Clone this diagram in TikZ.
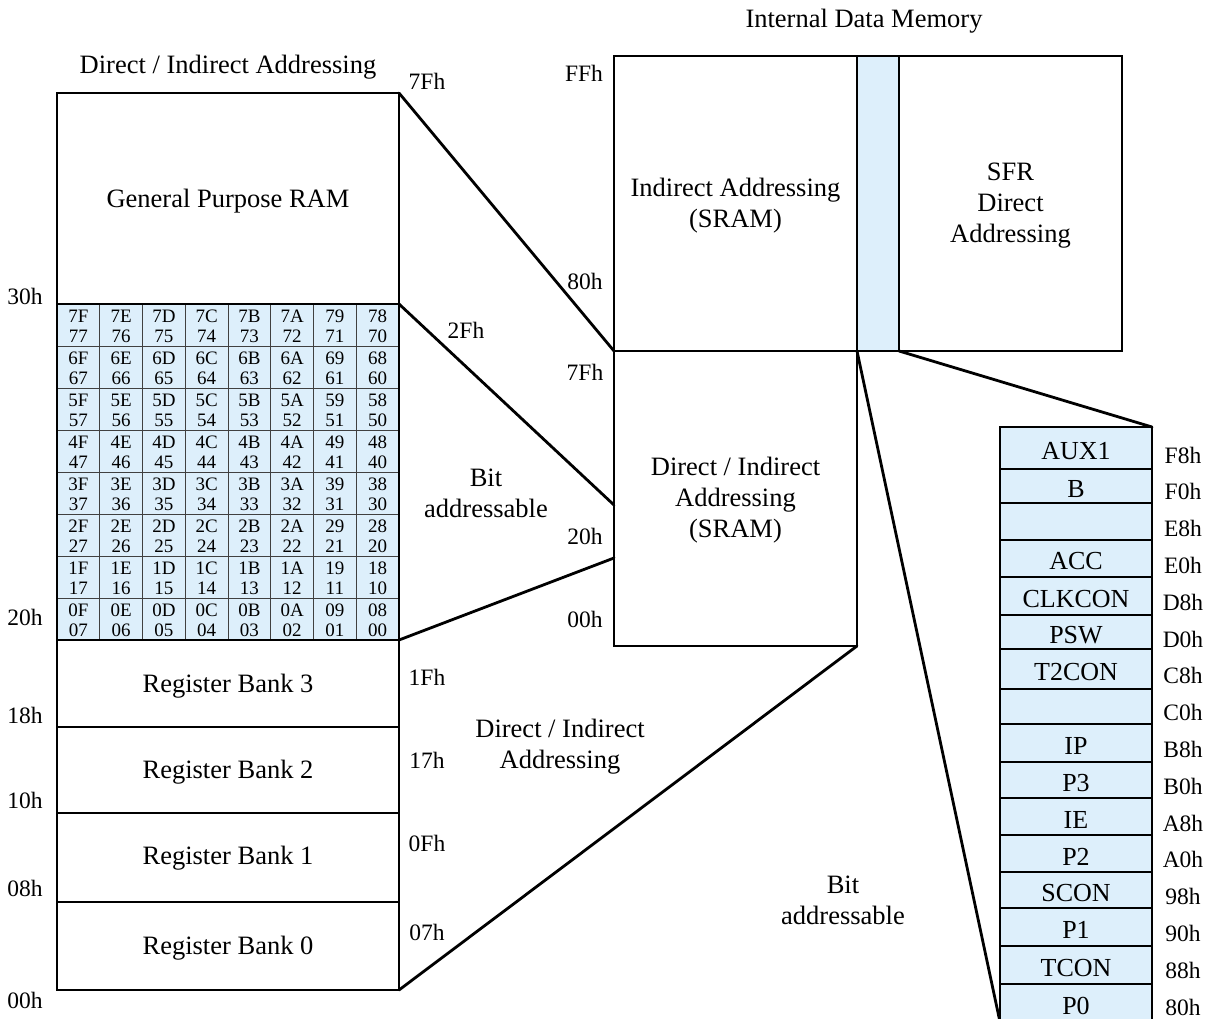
\documentclass[tikz,border=0pt]{standalone}
\usepackage{fontspec}
\setmainfont{Liberation Serif}
\definecolor{cellblue}{RGB}{221,239,251}
\newcommand{\mainfs}{\fontsize{26.5}{31}\selectfont}
\newcommand{\addrfs}{\fontsize{23.5}{28}\selectfont}
\newcommand{\cellfs}{\fontsize{19}{20}\selectfont}
\newcommand{\sfrfs}{\fontsize{26}{30}\selectfont}
\begin{document}
\begin{tikzpicture}[x=1pt,y=-1pt,
  box/.style={draw, line width=2.8pt, outer sep=0pt, inner sep=0pt},
  boxtext/.style={inner sep=0pt, align=center, font=\mainfs},
  cell/.style={draw=black!75, line width=0.9pt, fill=cellblue, outer sep=0pt, inner sep=0pt,
    minimum width=42.75pt, minimum height=42pt},
  celltext/.style={inner sep=0pt, align=center, font=\cellfs},
  addr/.style={inner sep=0pt, font=\addrfs},
  lbl/.style={inner sep=0pt, align=center, font=\mainfs},
  conn/.style={line width=2.8pt, line cap=round},
  sfrrow/.style={draw, line width=2pt, fill=cellblue, outer sep=0pt, inner sep=0pt,
    minimum width=152pt},
  sfrtext/.style={inner sep=0pt, font=\sfrfs}]
\useasboundingbox (0,0) rectangle (1210,1019);
\clip (0,0) rectangle (1210,1019);

% ---------- left column ----------
\node[lbl] (title1) at (228,67) {Direct / Indirect Addressing};
\node[box, minimum width=342pt, minimum height=211pt] (gp) at (228,198.5) {};
\node[boxtext] (gpt) at (228,201) {General Purpose RAM};
\foreach \h [count=\r from 0] in {7,6,5,4,3,2,1,0} {
  \foreach \t/\b [count=\c from 0] in {F/7,E/6,D/5,C/4,B/3,A/2,9/1,8/0} {
    \node[cell] (c\h\t) at ({57+42.75*(\c+0.5)},{304+42*(\r+0.5)}) {};
    \node[celltext] (t\h\t) at ({57+42.75*(\c+0.5)},{304+42*(\r+0.5)+1.5}) {\h\t\\\h\b};
  }
}
\node[draw, line width=2.8pt, outer sep=0pt, inner sep=0pt, minimum width=342pt, minimum height=336pt] (grid) at (228,472) {};
\node[box, minimum width=342pt, minimum height=87pt] (rb3) at (228,683.5) {};
\node[box, minimum width=342pt, minimum height=86pt] (rb2) at (228,770) {};
\node[box, minimum width=342pt, minimum height=89pt] (rb1) at (228,857.5) {};
\node[box, minimum width=342pt, minimum height=88pt] (rb0) at (228,946) {};
\node[boxtext] (rb3t) at (228,686) {Register Bank 3};
\node[boxtext] (rb2t) at (228,772.5) {Register Bank 2};
\node[boxtext] (rb1t) at (228,858) {Register Bank 1};
\node[boxtext] (rb0t) at (228,948) {Register Bank 0};

\node[addr] (a30) at (25,296) {30h};
\node[addr] (a20) at (25,617) {20h};
\node[addr] (a18) at (25,715) {18h};
\node[addr] (a10) at (25,800) {10h};
\node[addr] (a08) at (25,888) {08h};
\node[addr] (a00) at (25,1000) {00h};
\node[addr] (b7F) at (427,81) {7Fh};
\node[addr] (b2F) at (466,330) {2Fh};
\node[addr] (b1F) at (427,677) {1Fh};
\node[addr] (b17) at (427,760) {17h};
\node[addr] (b0F) at (427,843) {0Fh};
\node[addr] (b07) at (427,932) {07h};

\node[lbl] (bitl) at (486,493) {Bit\\addressable};
\node[lbl] (dial) at (560,747) {Direct / Indirect\\Addressing};
\node[lbl] (bitr) at (843,900) {Bit\\addressable};

% ---------- middle ----------
\node[lbl] (title2) at (864,21) {Internal Data Memory};
\node[draw, line width=1.3pt, fill=cellblue, outer sep=0pt, inner sep=0pt, minimum width=42pt, minimum height=295pt] (strip) at (878,203.5) {};
\draw[line width=2.8pt] (strip.north west) -- (strip.north east) (strip.south west) -- (strip.south east);
\node[box, minimum width=243pt, minimum height=295pt] (ind) at (735.5,203.5) {};
\node[box, minimum width=223pt, minimum height=295pt] (sfr) at (1010.5,203.5) {};
\node[box, minimum width=243pt, minimum height=295pt] (dir) at (735.5,498.5) {};
\node[boxtext] (indt) at (735.5,205.5) {Indirect Addressing\\(SRAM)};
\node[boxtext] (sfrt) at (1010.5,205.5) {SFR\\Direct\\Addressing};
\node[boxtext] (dirt) at (735.5,500.5) {Direct / Indirect\\Addressing\\(SRAM)};

\node[addr] (mFF) at (584,73) {FFh};
\node[addr] (m80) at (585,281) {80h};
\node[addr] (m7F) at (585,372) {7Fh};
\node[addr] (m20) at (585,536) {20h};
\node[addr] (m00) at (585,619) {00h};

\coordinate (dirA) at (614,505);
\coordinate (dirB) at (614,558);

% ---------- SFR column ----------
\foreach \t/\b/\n [count=\i] in {427/469/AUX1,469/503/B,503/540/{},540/577/ACC,577/615/CLKCON,615/649/PSW,649/689/T2CON,689/724/{},724/762/IP,762/798/P3,798/835/IE,835/872/P2,872/908/SCON,908/946/P1,946/984/TCON,984/1022/P0} {
  \node[sfrrow, minimum height={\b-\t}] (s\i) at (1076,{(\t+\b)/2}) {};
  \node[sfrtext] (st\i) at (1076,{(\t+\b)/2+3}) {\n};
}
\node[draw, line width=2.8pt, outer sep=0pt, inner sep=0pt, minimum width=152pt, minimum height=595pt] (sfrcol) at (1076,724.5) {};
\foreach \l [count=\i from 0] in {F8h,F0h,E8h,E0h,D8h,D0h,C8h,C0h,B8h,B0h,A8h,A0h,98h,90h,88h,80h} {
  \node[addr] (r\l) at (1183,{455+36.8*\i}) {\l};
}

% ---------- connectors ----------
\draw[conn] (gp.north east) -- (ind.south west);
\draw[conn] (grid.north east) -- (dirA);
\draw[conn] (grid.south east) -- (dirB);
\draw[conn] (rb0.south east) -- (dir.south east);
\draw[conn] (strip.south east) -- (sfrcol.north east);
\draw[conn] (strip.south west) -- (sfrcol.south west);
\end{tikzpicture}
\end{document}
